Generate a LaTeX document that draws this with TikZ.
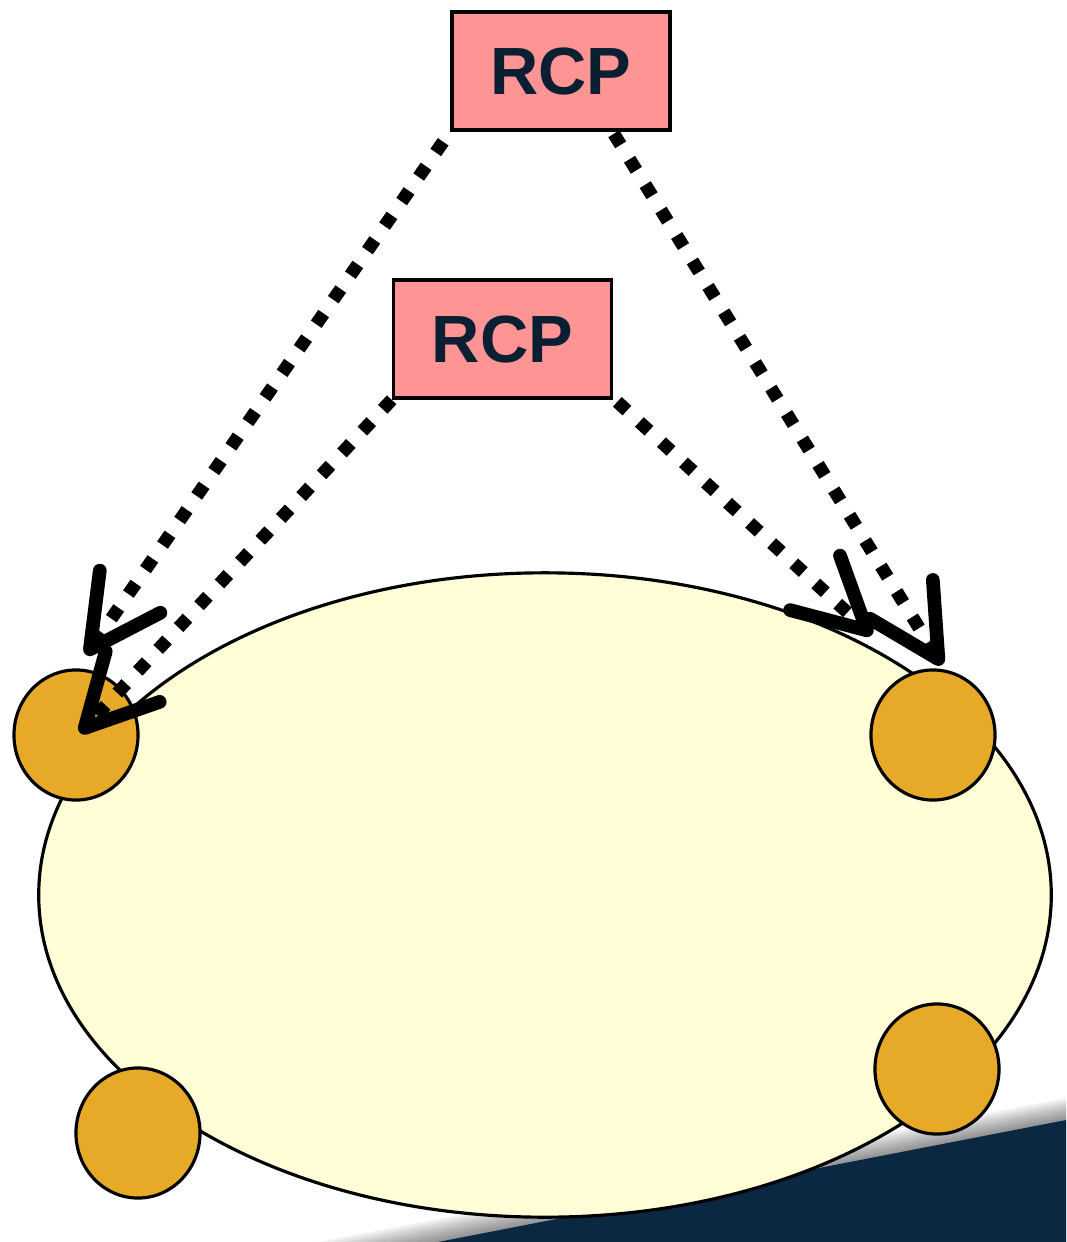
\documentclass[tikz,border=0pt]{standalone}
\usepackage{fontspec}
\setmainfont{Liberation Sans}
\usetikzlibrary{arrows.meta,shapes.geometric}
\definecolor{rosa}{HTML}{FF9494}
\definecolor{amarelo}{HTML}{FFFED6}
\definecolor{laranja}{HTML}{E6AA28}
\definecolor{marinho}{HTML}{0B2842}
\definecolor{azultexto}{HTML}{0B1F33}

\begin{document}
\begin{tikzpicture}[x=0.01cm,y=-0.01cm,
    caixa/.style={draw=black, line width=1pt, fill=rosa, minimum width=2.18cm,
      minimum height=1.18cm, inner sep=0pt, text=azultexto,
      font=\bfseries\fontsize{19}{21}\selectfont},
    no/.style={ellipse, draw=black, line width=0.9pt, fill=laranja,
      minimum width=1.24cm, minimum height=1.3cm, inner sep=0pt},
    pontilhado/.style={line width=3.7pt, dash pattern=on 3.7pt off 4.8pt,
      -{Straight Barb[round, length=20pt, width=21pt, line width=3.9pt]}}]
  \useasboundingbox (0,0) rectangle (1066,1242);

  % sombra e faixa escura no canto
  \foreach \k in {1,...,10}
    \fill[black, opacity=0.05] (438-12*\k,1242) -- (1066,1120-2.2*\k) -- (1066,1242) -- cycle;
  \fill[marinho] (438,1242) -- (1066,1120) -- (1066,1242) -- cycle;

  % anel
  \node[ellipse, draw=black, line width=0.9pt, fill=amarelo,
    minimum width=10.12cm, minimum height=6.44cm] (anel) at (545,895) {};

  % nos sobre o anel
  \foreach \nome/\px/\py in {a/76/735, b/933/735, c/138/1133, d/937/1069}
    \node[no] (\nome) at (\px,\py) {};

  % caixas RCP
  \node[caixa] (rcp1) at (561,71) {RCP};
  \node[caixa] (rcp2) at (502.5,339) {RCP};

  % pontas das setas
  \coordinate (pa) at ([shift={(10,-80)}]a.center);
  \coordinate (pb) at ([shift={(4,-2)}]a.center);
  \coordinate (pc) at ([shift={(-61,-100)}]b.center);
  \coordinate (pd) at ([shift={(9,-70)}]b.center);

  \draw[pontilhado] ([shift={(-7,10)}]rcp1.south west) -- (pa); % rcp1 -- a
  \draw[pontilhado] ([shift={(-58,2)}]rcp1.south east) -- (pd); % rcp1 -- b
  \draw[pontilhado] (rcp2.south west) -- (pb); % rcp2 -- a
  \draw[pontilhado] ([shift={(4,2)}]rcp2.south east) -- (pc); % rcp2 -- b
\end{tikzpicture}
\end{document}
